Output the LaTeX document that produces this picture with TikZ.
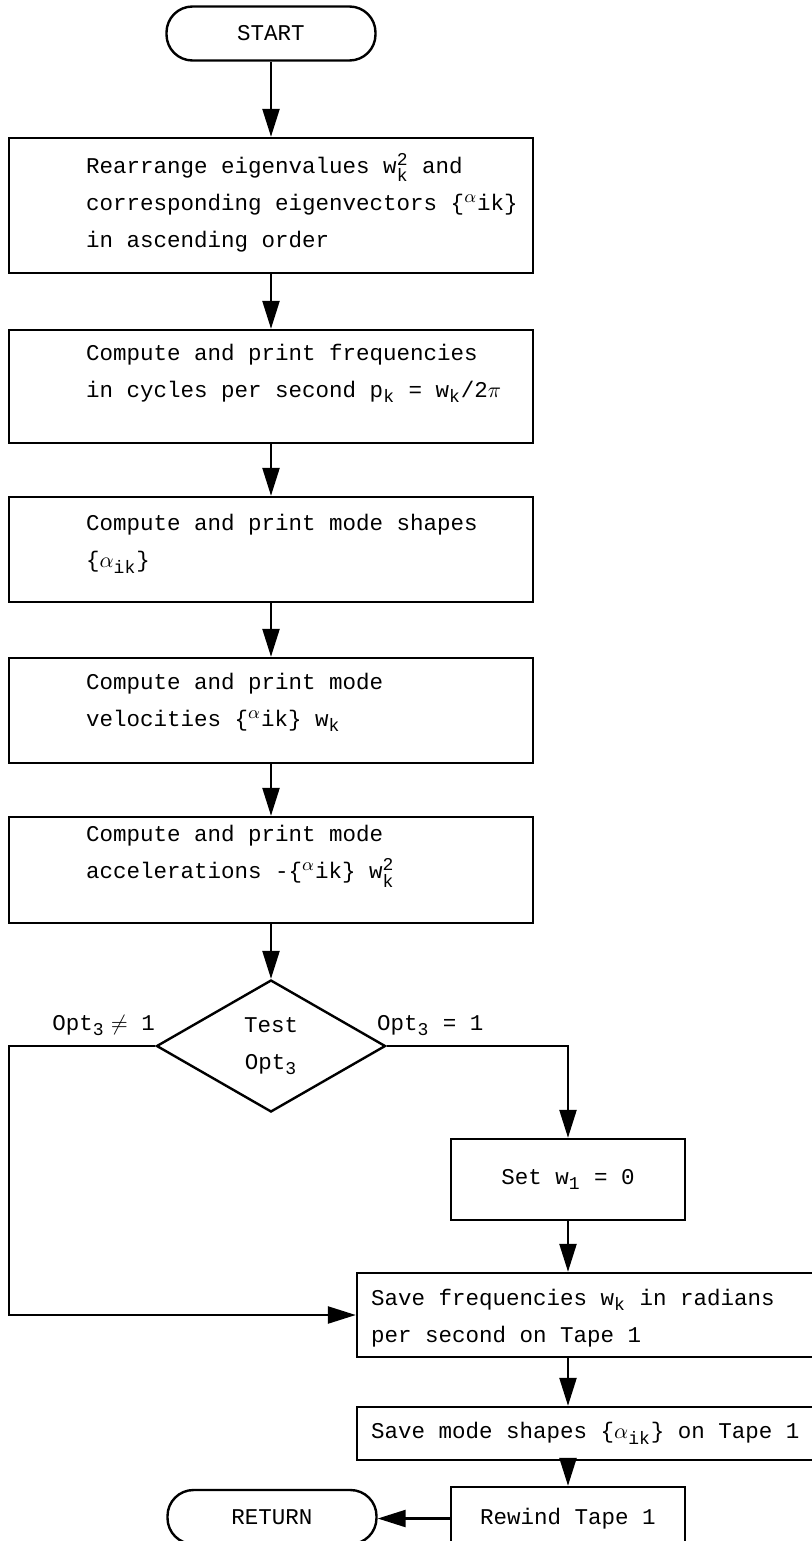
\documentclass[tikz,border=0pt]{standalone}
\usepackage{amsmath}
\usepackage{fontspec}
\setmainfont{Liberation Mono}
\DeclareMathSizes{11.25}{11.25}{9}{7}
\usetikzlibrary{arrows.meta,shapes,positioning}

\begin{document}
\begin{tikzpicture}[x=0.5pt,y=-0.5pt,font=\fontsize{11.25}{18.5}\selectfont]

	\tikzset{term/.style = {draw, rectangle, rounded corners=13pt, line width=1.2pt, minimum width=104.5pt, minimum height=27pt}}
	\tikzset{proc/.style = {draw, rectangle, line width=1.2pt, minimum width=262pt}}
	\tikzset{wide/.style = {draw, rectangle, line width=1.2pt, minimum width=236.5pt}}
	\tikzset{small/.style = {draw, rectangle, line width=1.2pt, minimum width=117pt, minimum height=40.5pt}}
	\tikzset{decision/.style = {draw, diamond, aspect=1.73, inner sep=0pt, line width=1.2pt, minimum width=114.5pt, minimum height=66pt, align=center}}
	\tikzset{boxtext/.style = {anchor=west, align=left, inner sep=0pt, xshift=#1}}
	\tikzset{edge/.style = {-{Triangle[length=14pt,width=8.5pt]}, line width=1.2pt}}

	\useasboundingbox (0,0) rectangle (812,1541);

	\node[term] (start) at (271,33.5) {START};
	\node[proc, minimum height=67.5pt, label={[boxtext=39pt, yshift=1.5pt]west:{Rearrange eigenvalues $\text{w}_{\text{k}}^{\text{2}}$ and\\corresponding eigenvectors \{$^{\alpha}$ik\}\\in ascending order}}] (rearr) at (271,205.5) {};
	\node[proc, minimum height=56.5pt, label={[boxtext=39pt, yshift=6.5pt]west:{Compute and print frequencies\\in cycles per second $\text{p}_{\text{k}}$ = $\text{w}_{\text{k}}$/2$\pi$}}] (freq) at (271,386.5) {};
	\node[proc, minimum height=52.5pt, label={[boxtext=39pt, yshift=2.75pt]west:{Compute and print mode shapes\\\{$\alpha_{\text{ik}}$\}}}] (shapes) at (271,549.5) {};
	\node[proc, minimum height=52.5pt, label={[boxtext=39pt, yshift=4pt]west:{Compute and print mode\\velocities \{$^{\alpha}$ik\} $\text{w}_{\text{k}}$}}] (veloc) at (271,710.5) {};
	\node[proc, minimum height=53pt, label={[boxtext=39pt, yshift=6.75pt]west:{Compute and print mode\\accelerations -\{$^{\alpha}$ik\} $\text{w}_{\text{k}}^{\text{2}}$}}] (accel) at (271,870) {};
	\node[decision] (test) at (271,1046) {Test\\Opt$_{\text{3}}$};
	\node[anchor=south east, inner sep=0pt, yshift=5pt] (optne) at (test.west) {Opt$_{\text{3}}\neq$ 1};
	\node[anchor=south west, inner sep=0pt, xshift=-5pt, yshift=5pt] (opteq) at (test.east) {Opt$_{\text{3}}$ = 1};
	\node[small] (setw) at (568,1179.5) {Set $\text{w}_{\text{1}}$ = 0};
	\node[wide, minimum height=42pt, label={[boxtext=7.5pt, yshift=-1.5pt]west:{Save frequencies $\text{w}_{\text{k}}$ in radians\\per second on Tape 1}}] (savefreq) at (593.5,1315) {};
	\node[wide, minimum height=26.5pt, label={[boxtext=7.5pt]west:{Save mode shapes \{$\alpha_{\text{ik}}$\} on Tape 1}}] (savemode) at (593.5,1433.5) {};
	\node[small, minimum height=31.5pt] (rewind) at (568,1518.5) {Rewind Tape 1};
	\node[term] (return) at (272,1517) {RETURN};
	\coordinate (loopx) at (9,1046);

	\draw[edge] (start) to (rearr);
	\draw[edge] (rearr) to (freq);
	\draw[edge] (freq) to (shapes);
	\draw[edge] (shapes) to (veloc);
	\draw[edge] (veloc) to (accel);
	\draw[edge] (accel) to (test);
	\draw[edge] (test.east) -| (setw.north);
	\draw[edge] (test.west) -- (loopx) |- (savefreq.west);
	\draw[edge] (setw.south) -- (setw.south |- savefreq.north);
	\draw[edge] (setw.south |- savefreq.south) -- (setw.south |- savemode.north);
	\draw[edge] (rewind.north |- savemode.south) -- (rewind.north);
	\draw[edge] (rewind.west) -- (rewind.west -| return.east);
\end{tikzpicture}
\end{document}
